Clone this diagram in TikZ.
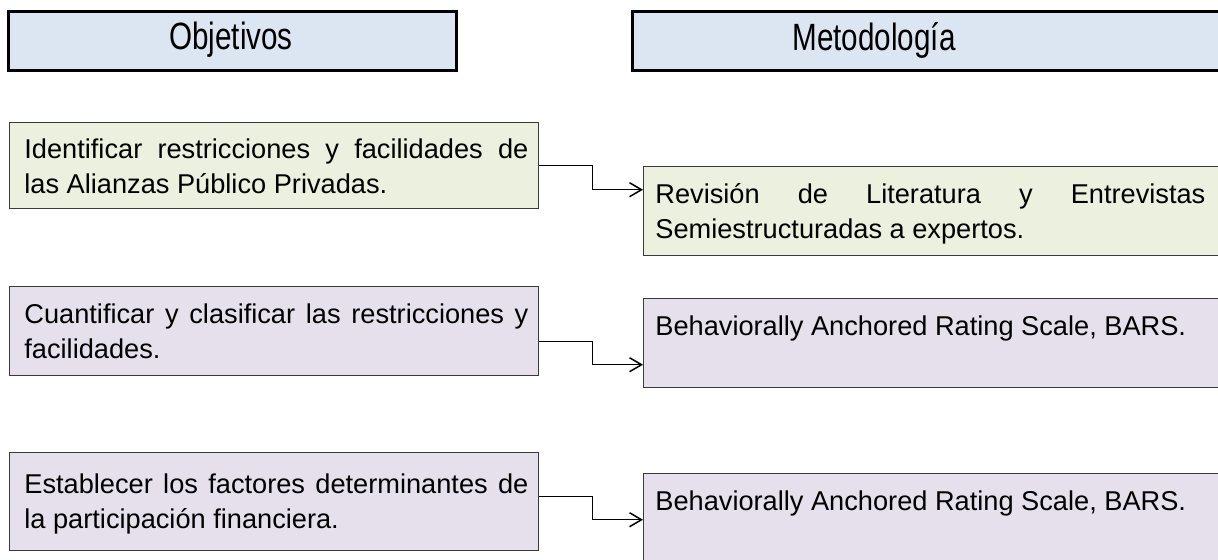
\documentclass[tikz,border=0pt]{standalone}
\usepackage{fontspec}
\setmainfont{Liberation Sans}
\usepackage{graphicx}
\usetikzlibrary{arrows.meta}
\definecolor{headblue}{HTML}{DCE6F2}
\definecolor{boxgreen}{HTML}{EBF1DE}
\definecolor{boxpurple}{HTML}{E5E0EC}
\definecolor{boxline}{HTML}{3A3A3A}

\begin{document}
\begin{tikzpicture}[x=0.5pt, y=-0.5pt,
  head/.style = {draw=black, line width=1.3pt, fill=headblue, anchor=north west, minimum height=29.5pt},
  headtxt/.style = {font=\fontsize{19}{23}\selectfont},
  box/.style = {draw=boxline, line width=0.7pt, anchor=north west},
  objbox/.style = {box, minimum width=264.5pt},
  metbox/.style = {box, minimum width=300pt},
  txt/.style = {anchor=north west, inner sep=0pt, align=justify, font=\fontsize{13.6}{17.5}\selectfont},
  link/.style = {draw=black, line width=0.75pt, -{Straight Barb[length=6pt, width=7pt]}}]
\useasboundingbox (0,0) rectangle (1218,559);

% headers
\node[head, minimum width=224pt] (h1) at (7,10) {};
\node[head, minimum width=310pt] (h2) at (631,10) {};
\node[headtxt] (h1t) at (231,40) {\scalebox{0.78}[1]{Objetivos}};
\node[headtxt] (h2t) at (874,40) {\scalebox{0.78}[1]{Metodología}};

% objetivos
\node[objbox, fill=boxgreen,  minimum height=43pt]   (obj1) at (9,122) {};
\node[objbox, fill=boxpurple, minimum height=44.5pt] (obj2) at (9,286) {};
\node[objbox, fill=boxpurple, minimum height=49pt]   (obj3) at (9,452) {};
\node[txt, text width=252pt] (obj1t) at (24,138) {Identificar restricciones y facilidades de\linebreak las Alianzas Público Privadas.};
\node[txt, text width=252pt] (obj2t) at (24,303) {Cuantificar y clasificar las restricciones y\linebreak facilidades.};
\node[txt, text width=252pt] (obj3t) at (24,473) {Establecer los factores determinantes de\linebreak la participación financiera.};

% metodologia
\node[metbox, fill=boxgreen,  minimum height=44.5pt] (met1) at (643,166) {};
\node[metbox, fill=boxpurple, minimum height=44.5pt] (met2) at (643,298) {};
\node[metbox, fill=boxpurple, minimum height=49pt]   (met3) at (643,473) {};
\node[txt, text width=275pt] (met1t) at (655,183) {Revisión de Literatura y Entrevistas\linebreak Semiestructuradas a expertos.};
\node[txt, text width=275pt] (met2t) at (655,315) {Behaviorally Anchored Rating Scale, BARS.};
\node[txt, text width=275pt] (met3t) at (655,490) {Behaviorally Anchored Rating Scale, BARS.};

% conectores
\draw[link] (obj1.east) -- ++(53,0) |- ([yshift=10.75pt]met1.west);
\draw[link] ([yshift=-5.25pt]obj2.east) -- ++(53,0) |- ([yshift=-10.75pt]met2.west);
\draw[link] ([yshift=2.5pt]obj3.east) -- ++(53,0) |- ([yshift=1.5pt]met3.west);
\end{tikzpicture}
\end{document}
